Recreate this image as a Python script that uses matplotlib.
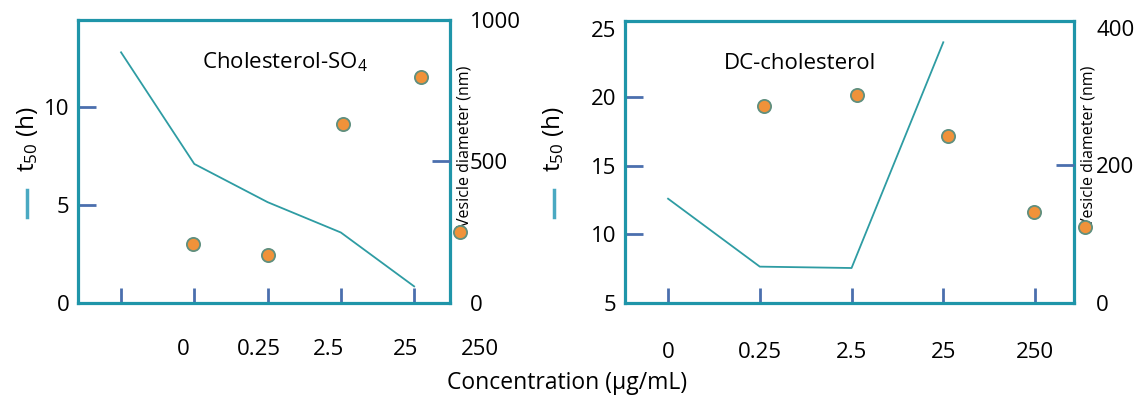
import matplotlib

matplotlib.use("Agg")
import matplotlib.pyplot as plt
from matplotlib.lines import Line2D

plt.rcParams["font.family"] = ["Open Sans", "DejaVu Sans"]
plt.rcParams["mathtext.fontset"] = "custom"
plt.rcParams["mathtext.rm"] = "Open Sans"
plt.rcParams["mathtext.it"] = "Open Sans"

SPINE = "#1f95a9"
LINE = "#2e9ca3"
TICK = "#4b6fae"
DOT = "#f0923a"
DOT_EDGE = "#5f8f7f"
LEGEND_LINE = "#4aa9c2"
FS = 16

conc_labels = ["0", "0.25", "2.5", "25", "250"]

# Cholesterol-SO4
chol_tick_x = [0, 1, 2, 3, 4]
chol_label_x = [0.85, 1.88, 2.83, 3.89, 4.9]
chol_t50_x = [0, 1, 2, 3, 4]
chol_t50 = [12.8, 7.1, 5.15, 3.6, 0.85]
chol_diam_x = [0.98, 2.0, 3.03, 4.1, 4.63]
chol_diam = [208, 170, 632, 799, 251]

# DC-cholesterol
dc_tick_x = [0, 1, 2, 3, 4]
dc_label_x = [0, 1, 2, 3, 4]
dc_t50_x = [0, 1, 2, 3]
dc_t50 = [12.6, 7.65, 7.55, 24.0]
dc_diam_x = [1.05, 2.06, 3.05, 3.99, 4.54]
dc_diam = [287, 303, 243, 132, 110]


def draw_panel(fig, rect, xlim, ylim, yticks, ytick_marks, y2lim, y2ticks, y2tick_marks,
               tick_x, label_x, label_y, t50_x, t50, diam_x, diam, title, title_xy,
               ylabel_x, vlabel_x, y2pad):
    ax = fig.add_axes(rect)
    for s in ax.spines.values():
        s.set_color(SPINE)
        s.set_linewidth(2.3)
    ax.yaxis.remove_overlapping_locs = False

    ax.plot(t50_x, t50, color=LINE, lw=1.3, zorder=3)

    # tick marks sit inside the box, the concentration labels hang well below it
    ax.set_xticks(tick_x, [""] * len(tick_x))
    ax.tick_params(axis="x", which="major", direction="in", length=11, width=2, color=TICK)
    xform = ax.get_xaxis_transform()
    for x, lab in zip(label_x, conc_labels):
        ax.text(x, label_y, lab, transform=xform, fontsize=FS, ha="center", va="center",
                clip_on=False)

    ax.set_yticks(yticks, [str(v) for v in yticks])
    ax.tick_params(axis="y", which="major", length=0, pad=6, labelsize=FS)
    ax.set_yticks(ytick_marks, minor=True)
    ax.tick_params(axis="y", which="minor", direction="in", length=13, width=2, color=TICK)

    ax2 = ax.twinx()
    ax2.yaxis.remove_overlapping_locs = False
    for s in ax2.spines.values():
        s.set_visible(False)
    ax2.plot(diam_x, diam, "o", ms=9.5, mfc=DOT, mec=DOT_EDGE, mew=1.3, clip_on=False, zorder=5)
    ax2.set_ylim(*y2lim)
    ax2.set_yticks(y2ticks, [str(v) for v in y2ticks])
    ax2.tick_params(axis="y", which="major", length=0, pad=y2pad, labelsize=FS)
    ax2.set_yticks(y2tick_marks, minor=True)
    ax2.tick_params(axis="y", which="minor", direction="in", length=13, width=2, color=TICK)

    ax.set_xlim(*xlim)
    ax.set_ylim(*ylim)

    ax.text(title_xy[0], title_xy[1], title, transform=ax.transAxes, fontsize=16,
            ha="center", va="center")

    # left axis label with its line key
    ax.text(ylabel_x, 0.58, r"t$_{50}$ (h)", transform=ax.transAxes, rotation=90,
            fontsize=17.5, ha="center", va="center")
    ax.add_line(Line2D([ylabel_x + 0.001, ylabel_x + 0.001], [0.305, 0.4], transform=ax.transAxes,
                       color=LEGEND_LINE, lw=2.5, clip_on=False))

    ax.text(vlabel_x, 0.555, "Vesicle diameter (nm)", transform=ax.transAxes, rotation=90,
            fontsize=11.5, ha="center", va="center")
    return ax


fig = plt.figure(figsize=(11.41, 4.0), dpi=100)

draw_panel(fig, [0.0684, 0.2425, 0.326, 0.7075],
           xlim=(-0.587, 4.49), ylim=(0, 14.45), yticks=[0, 5, 10], ytick_marks=[5, 10],
           y2lim=(0, 1000), y2ticks=[0, 500, 1000], y2tick_marks=[500],
           tick_x=chol_tick_x, label_x=chol_label_x, label_y=-0.166,
           t50_x=chol_t50_x, t50=chol_t50,
           diam_x=chol_diam_x, diam=chol_diam, title="Cholesterol-SO$_4$",
           title_xy=(0.555, 0.85), ylabel_x=-0.137, vlabel_x=1.04, y2pad=14)

draw_panel(fig, [0.5478, 0.2425, 0.3935, 0.705],
           xlim=(-0.469, 4.425), ylim=(5, 25.55), yticks=[5, 10, 15, 20, 25],
           ytick_marks=[10, 15, 20],
           y2lim=(0, 410), y2ticks=[0, 200, 400], y2tick_marks=[200],
           tick_x=dc_tick_x, label_x=dc_label_x, label_y=-0.177,
           t50_x=dc_t50_x, t50=dc_t50,
           diam_x=dc_diam_x, diam=dc_diam, title="DC-cholesterol",
           title_xy=(0.39, 0.85), ylabel_x=-0.16, vlabel_x=1.032, y2pad=16)

fig.text(0.497, 0.043, "Concentration (\u00b5g/mL)", fontsize=16.5, ha="center", va="center")

fig.savefig("out.png", dpi=100)
